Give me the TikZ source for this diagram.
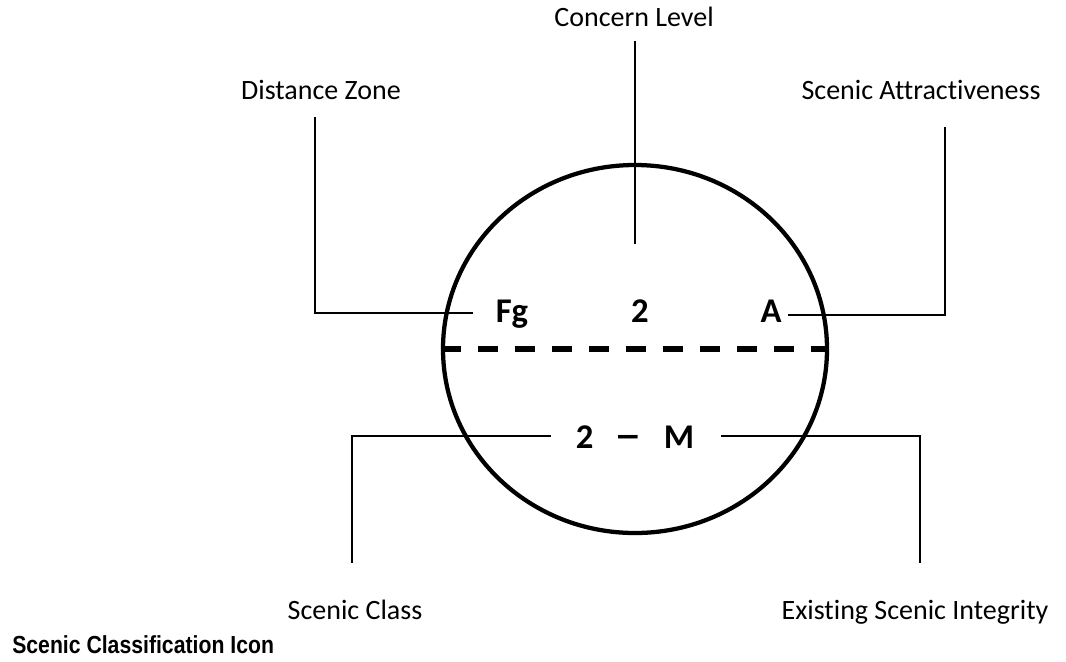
\documentclass[tikz,border=0pt]{standalone}
\usepackage{fontspec}
\usepackage{graphicx}
\setmainfont{Carlito}[Ligatures=CommonOff]
\newfontfamily\iconfont[FakeStretch=0.86]{Liberation Sans}
\usetikzlibrary{shapes.geometric}
\begin{document}
\begin{tikzpicture}[x=0.75pt,y=-0.75pt,
  lbl/.style={font=\fontsize{21}{25}\selectfont, inner sep=0, anchor=base},
  big/.style={font=\fontsize{26}{30}\selectfont\bfseries, inner sep=0, anchor=base},
  conn/.style={line width=1.1pt, line cap=rect},
  ring/.style={draw, ellipse, line width=3.2pt, minimum width=288pt, minimum height=276pt, inner sep=0},
  divider/.style={line width=3.9pt, dash pattern=on 15pt off 12.75pt}
]
\useasboundingbox (0,0) rectangle (1066,661);
\node[ring] (icon) at (635,349) {};
\draw[divider] (icon.west) -- (icon.east);

\node[lbl] (cl) at (634,26) {Concern Level};
\node[lbl] (dz) at (321,99) {Distance Zone};
\node[lbl] (sa) at (921,99) {Scenic Attractiveness};
\node[lbl] (sc) at (355,619) {Scenic Class};
\node[lbl] (esi) at (915,619) {Existing Scenic Integrity};
\node[font=\iconfont\bfseries\fontsize{18.5}{22}\selectfont, anchor=base west, inner sep=0] (title) at (12,653) {Scenic Classification Icon};

\node[big] (fg) at (512,322) {Fg};
\node[big] (cv) at (640,322) {2};
\node[big] (av) at (771,322) {A};
\node[big] (cm) at (635,448) {2\hspace{16pt}\scalebox{1.6}[1.15]{–}\hspace{16pt}M};

\coordinate (clTop) at (635,42);
\coordinate (clEnd) at (635,243);
\coordinate (dzTop) at (315,118);
\coordinate (dzEnd) at (472,313);
\coordinate (saTop) at (945,128);
\coordinate (saEnd) at (789,315);
\coordinate (scBot) at (352,562);
\coordinate (scEnd) at (550,436);
\coordinate (esiBot) at (920,562);
\coordinate (esiEnd) at (722,436);

\draw[conn] (clTop) -- (clEnd);
\draw[conn] (dzTop) |- (dzEnd);
\draw[conn] (saTop) |- (saEnd);
\draw[conn] (scBot) |- (scEnd);
\draw[conn] (esiBot) |- (esiEnd);
\end{tikzpicture}
\end{document}
